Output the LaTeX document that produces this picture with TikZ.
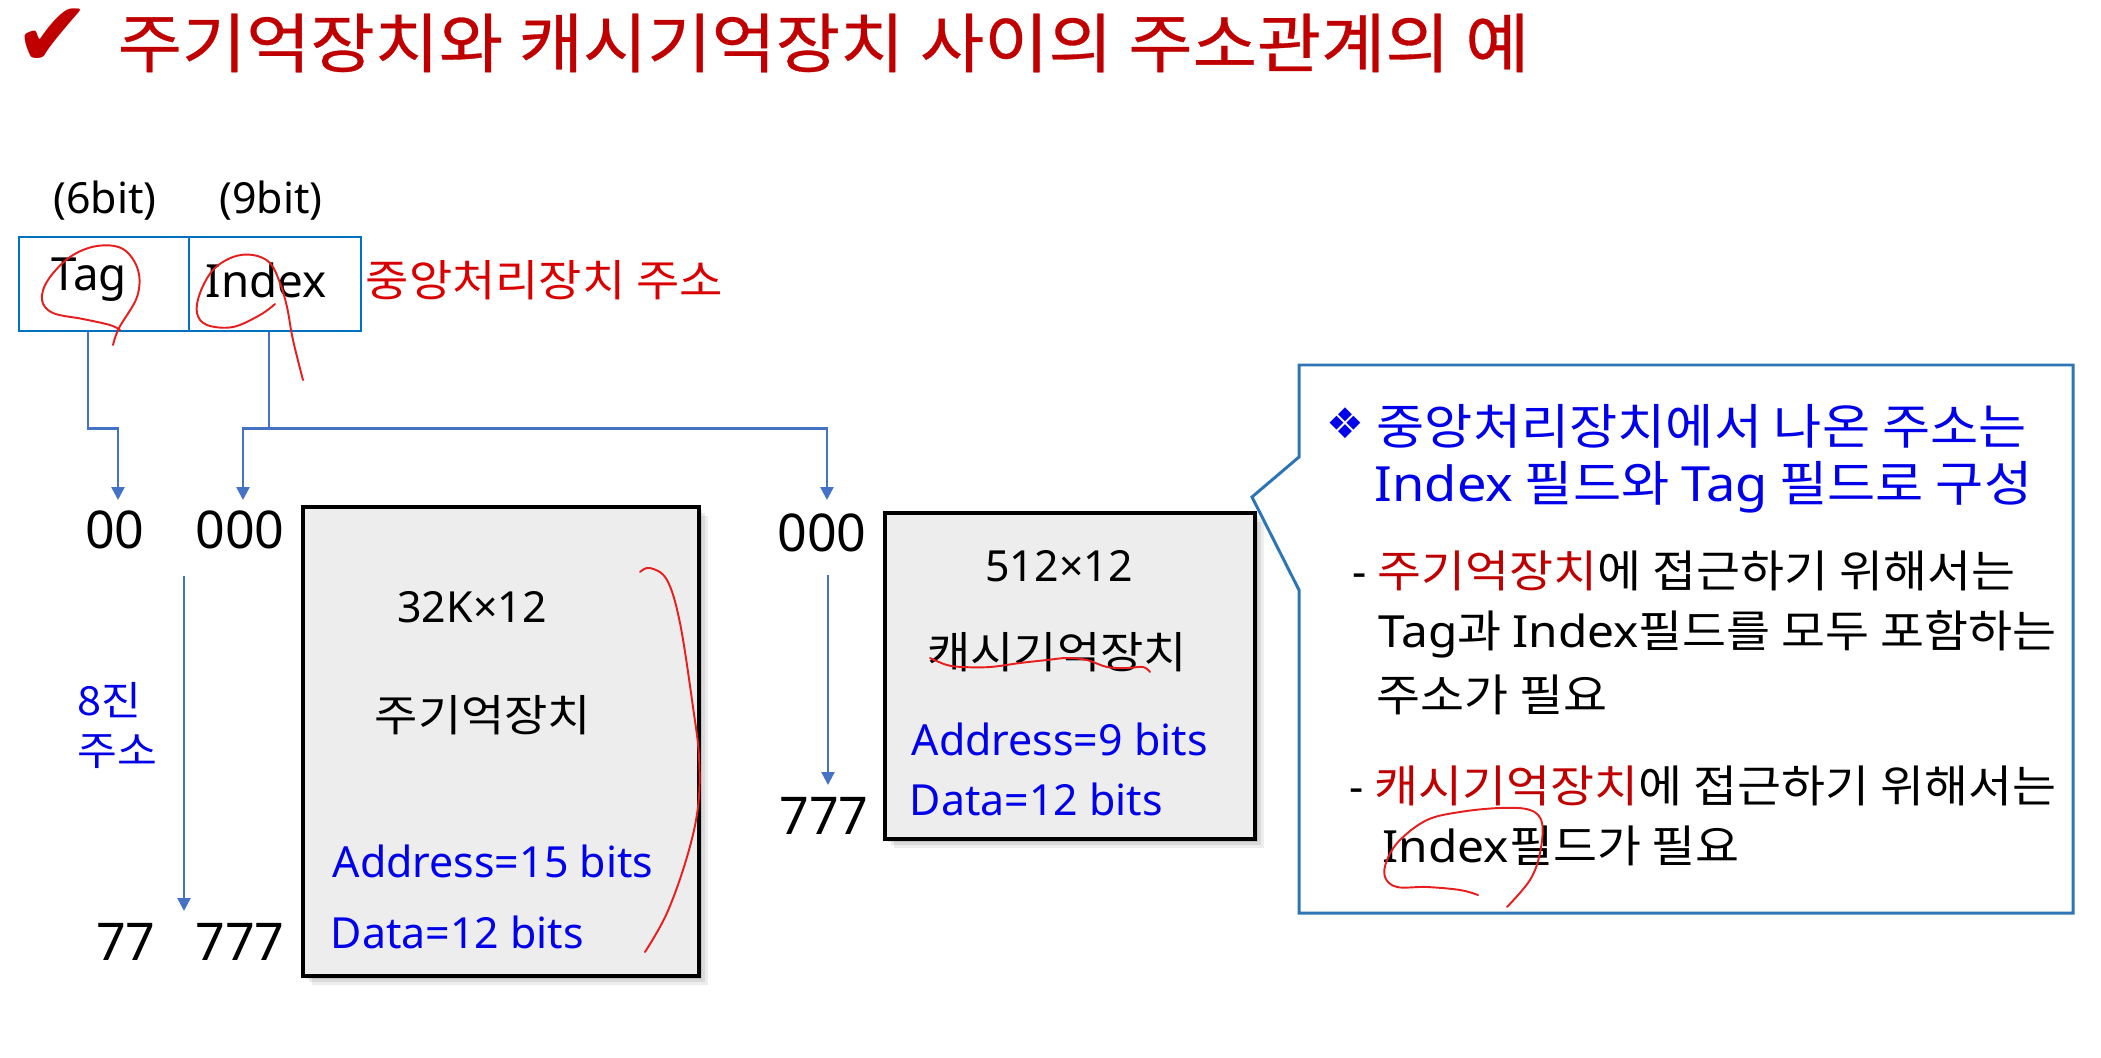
\documentclass[tikz,border=0pt]{standalone}
\usepackage{fontspec}
\setmainfont{Noto Sans CJK KR}[FakeStretch=1.08]
\newfontfamily\krtitle{Noto Sans CJK KR}[FakeStretch=1.08,FakeBold=0.5]
\newfontfamily\lat{Noto Sans}
\newfontfamily\clat{Noto Sans}[FakeStretch=1.08]
\newfontfamily\sym{DejaVu Sans}
\usetikzlibrary{arrows.meta,fit,shadows,calc}
\definecolor{tred}{RGB}{192,0,0}
\definecolor{cpured}{RGB}{218,0,0}
\definecolor{tblue}{RGB}{0,0,235}
\definecolor{boxblue}{RGB}{0,112,192}
\definecolor{connblue}{RGB}{68,114,196}
\definecolor{callblue}{RGB}{46,117,182}
\definecolor{pen}{RGB}{232,30,30}
\definecolor{memgray}{RGB}{237,237,237}
\begin{document}
\begin{tikzpicture}[x=0.1mm,y=-0.1mm,
  kr/.style={inner sep=0pt, font=\fontsize{12.4}{15}\selectfont},
  la/.style={inner sep=0pt, font=\lat\fontsize{12.2}{15}\selectfont},
  dig/.style={inner sep=0pt, font=\lat\fontsize{14.8}{17}\selectfont},
  callhead/.style={inner sep=0pt, anchor=base west, text=tblue, font=\fontsize{13.8}{16}\selectfont},
  calltext/.style={inner sep=0pt, anchor=base west, font=\fontsize{12.6}{15}\selectfont},
  cell/.style={draw=boxblue, line width=0.85pt, inner sep=0pt},
  membox/.style={draw=black, fill=memgray, line width=0.9pt, inner sep=0pt,
    drop shadow={shadow xshift=0.9mm,shadow yshift=-0.9mm,fill=black,opacity=0.07},
    drop shadow={shadow xshift=0.6mm,shadow yshift=-0.6mm,fill=black,opacity=0.08},
    drop shadow={shadow xshift=0.3mm,shadow yshift=-0.3mm,fill=black,opacity=0.10}},
  conn/.style={draw=connblue, line width=0.7pt},
  arr/.style={-{Triangle[length=1.3mm,width=1.3mm]}},
  penline/.style={draw=pen, line width=0.55pt, line cap=round, line join=round}
]
\useasboundingbox (0,0) rectangle (2101,1058);
\fill[white] (0,0) rectangle (2101,1058);

% title
\node[inner sep=0pt, text=tred, font=\sym\fontsize{26}{28}\selectfont] (check) at (53,38) {✔};
\node[inner sep=0pt, anchor=west, text=tred, font=\krtitle\fontsize{18.4}{22}\selectfont] (title) at (117,43) {주기억장치와 캐시기억장치 사이의 주소관계의 예};

% CPU address register
\node[la] (p6) at (105,201) {(6bit)};
\node[la] (p9) at (271,201) {(9bit)};
\node[cell, fit={(19,237) (189,331)}] (tagcell) {};
\node[cell, fit={(189,237) (361,331)}] (idxcell) {};
\node[la, font=\lat\fontsize{13}{15}\selectfont] (tag) at (89,280) {Tag};
\node[la, font=\lat\fontsize{13}{15}\selectfont] (idx) at (266,280) {Index};
\node[kr, anchor=west, text=cpured] (cpu) at (365,280) {중앙처리장치 주소};

% address labels
\node[dig] (n00) at (115,530) {00};
\node[dig] (n000) at (240,530) {000};
\node[dig] (n77) at (126,942) {77};
\node[dig] (n777) at (240,942) {777};
\node[dig] (c000) at (822,533) {000};
\node[dig] (c777) at (824,816) {777};
\node[kr, anchor=west, text=tblue, font=\fontsize{11.4}{14}\selectfont] (oct1) at (77,700) {8진};
\node[kr, anchor=west, text=tblue, font=\fontsize{11.4}{14}\selectfont] (oct2) at (77,752) {주소};

% connectors
\coordinate (a00) at (118,500);
\coordinate (a000) at (243,500);
\coordinate (ac000) at (827,500);
\draw[conn, arr] (tagcell.south -| 88,0) -- ++(0,96) -| (a00);
\draw[conn] (idxcell.south -| 269,0) -- ++(0,96) coordinate (busmid);
\draw[conn, arr] (busmid) -| (a000);
\draw[conn, arr] (busmid) -| (ac000);
\coordinate (vtop) at (184,576);
\coordinate (vbot) at (184,911);
\draw[conn, arr] (vtop) -- (vbot);
\coordinate (cvtop) at (828,575);
\coordinate (cvbot) at (828,785);
\draw[conn, arr] (cvtop) -- (cvbot);

% main memory
\node[membox, fit={(303,507) (699,976)}] (main) {};
\node[la] (mainsize) at (472,607) {32K×12};
\node[kr] (mainname) at (483,715) {주기억장치};
\node[la, anchor=base west, text=tblue] (mainaddr) at (332,877) {Address=15 bits};
\node[la, anchor=base west, text=tblue] (maindata) at (330,948) {Data=12 bits};

% cache memory
\node[membox, fit={(885,513) (1255,839)}] (cache) {};
\node[la] (cachesize) at (1059,566) {512×12};
\node[kr] (cachename) at (1057,652) {캐시기억장치};
\node[la, anchor=base west, text=tblue] (cacheaddr) at (911,755) {Address=9 bits};
\node[la, anchor=base west, text=tblue] (cachedata) at (909,815) {Data=12 bits};

% callout
\coordinate (tip) at (1252,497);
\draw[draw=callblue, line width=0.85pt, fill=white, line join=miter]
  (1299,365) -- (2073,365) -- (2073,913) -- (1299,913) -- (1299,590) -- (tip) -- (1299,457) -- cycle;
\node[inner sep=0pt, text=tblue, font=\sym\fontsize{12}{14}\selectfont] (bullet) at (1345,423) {❖};
\node[callhead] (l1) at (1376,444) {중앙처리장치에서 나온 주소는};
\node[callhead] (l2) at (1374,501) {{\clat Index} 필드와 {\clat Tag} 필드로 구성};
\node[calltext] (l3) at (1352,587) {{\lat -} {\color{tred}주기억장치}에 접근하기 위해서는};
\node[calltext] (l4) at (1378,647) {{\clat Tag}과 {\clat Index}필드를 모두 포함하는};
\node[calltext] (l5) at (1376,711) {주소가 필요};
\node[calltext] (l6) at (1349,802) {{\lat -} {\color{tred}캐시기억장치}에 접근하기 위해서는};
\node[calltext] (l7) at (1382,862) {{\clat Index}필드가 필요};

% handwritten pen marks
\draw[penline] plot[smooth, tension=0.6] coordinates {(113,345) (119,328) (137,297) (138,270) (123,249) (97,246) (70,257) (48,280) (42,300) (53,313) (83,319) (110,325) (120,330)};
\draw[penline] plot[smooth, tension=0.6] coordinates {(275,304) (260,315) (233,327) (207,325) (197,313) (200,293) (213,270) (233,257) (253,255) (270,263) (280,283) (287,307) (293,340) (303,380)};
\draw[penline] plot[smooth, tension=0.6] coordinates {(640,572) (650,568) (667,580) (680,623) (693,707) (699,757) (698,807) (687,857) (667,913) (645,952)};
\draw[penline] plot[smooth, tension=0.6] coordinates {(930,658) (947,665) (963,667) (990,667) (1020,663) (1047,660) (1067,658) (1087,660) (1107,667) (1127,668) (1143,667) (1150,672)};
\draw[penline] plot[smooth, tension=0.6] coordinates {(1478,895) (1460,890) (1427,887) (1397,887) (1385,877) (1387,860) (1400,840) (1427,820) (1460,812) (1500,808) (1530,810) (1542,823) (1540,853) (1530,880) (1507,907)};
\end{tikzpicture}
\end{document}
